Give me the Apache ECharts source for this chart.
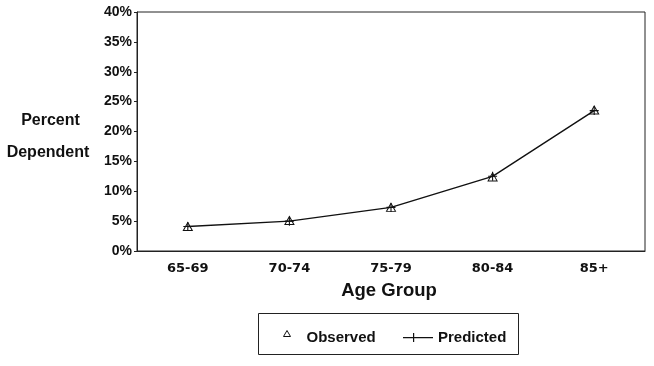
<!DOCTYPE html>
<html><head><meta charset="utf-8">
<script src="https://cdn.jsdelivr.net/npm/echarts@6/dist/echarts.min.js"></script>
<style>html,body{margin:0;padding:0;background:#fff}#c{width:654px;height:366px}</style>
</head><body><div id="c"></div>
<script>
const categories = ['65-69', '70-74', '75-79', '80-84', '85+'];
const observed = [4.1, 5.1, 7.3, 12.4, 23.6];
const predicted = [4.1, 5.0, 7.3, 12.5, 23.5];
const yTicks = [0, 5, 10, 15, 20, 25, 30, 35, 40];

const plusPath = 'path://M4.4,0h1.2v10h-1.2zM0,4.4h10v1.2h-10z';
const triPath = 'path://M5,0L10,9L0,9Z';
const FONT = 'Liberation Sans';
const FONT2 = 'DejaVu Sans';
const chart = echarts.init(document.getElementById('c'));
chart.setOption({
  animation: false,
  backgroundColor: '#fff',
  grid: { left: 137, top: 12, right: 9, bottom: 115, show: true, borderColor: '#222', borderWidth: 1 },
  xAxis: {
    type: 'category', data: categories, boundaryGap: true,
    axisLine: { lineStyle: { color: '#222', width: 1 } },
    axisTick: { alignWithLabel: true, inside: true, length: 5, lineStyle: { color: '#222' } },
    axisLabel: { color: '#111', fontFamily: FONT2, fontWeight: 'bold', fontSize: 13, margin: 11 }
  },
  yAxis: {
    type: 'value', min: yTicks[0], max: yTicks[yTicks.length - 1], interval: 5,
    splitLine: { show: false },
    axisLine: { show: true, lineStyle: { color: '#222', width: 1 } },
    axisTick: { show: true, length: 3, lineStyle: { color: '#222' } },
    axisLabel: { color: '#111', fontFamily: FONT, fontWeight: 'bold', fontSize: 14, margin: 5, formatter: v => v + '%' }
  },
  legend: [
    {
      left: 283, top: 330, padding: 0, itemWidth: 18, itemHeight: 15,
      textStyle: { color: '#111', fontFamily: FONT, fontWeight: 'bold', fontSize: 15 },
      data: [{ name: 'Observed', icon: 'path://M3.5,0L7,6L0,6ZM18,15L18,15',
               itemStyle: { color: '#fff', borderColor: '#111', borderWidth: 1 } }]
    },
    {
      left: 403, top: 330, padding: 0, itemWidth: 30, itemHeight: 9,
      textStyle: { color: '#111', fontFamily: FONT, fontWeight: 'bold', fontSize: 15 },
      data: [{ name: 'Predicted', icon: 'path://M0,4h30v1.2h-30zM10,0h1.2v9h-1.2z', itemStyle: { color: '#111', borderWidth: 0 } }]
    }
  ],
  graphic: [
    { type: 'rect', shape: { x: 258.5, y: 313.5, width: 260, height: 41 }, style: { fill: 'none', stroke: '#222', lineWidth: 1 } },
    { type: 'text', x: 50.5, y: 120.5, style: { text: 'Percent', align: 'center', verticalAlign: 'middle', font: 'bold 16px "Liberation Sans"', fill: '#111' } },
    { type: 'text', x: 48, y: 152.5, style: { text: 'Dependent', align: 'center', verticalAlign: 'middle', font: 'bold 16px "Liberation Sans"', fill: '#111' } },
    { type: 'text', x: 389, y: 291, style: { text: 'Age Group', align: 'center', verticalAlign: 'middle', font: 'bold 18.5px "Liberation Sans"', fill: '#111' } }
  ],
  series: [
    {
      name: 'Predicted', type: 'line', data: predicted, symbol: plusPath, symbolSize: 9,
      lineStyle: { color: '#111', width: 1.4 }, itemStyle: { color: '#111' }, z: 2
    },
    {
      name: 'Observed', type: 'line', data: observed, symbol: triPath, symbolSize: [9, 8],
      lineStyle: { width: 0, opacity: 0 }, itemStyle: { color: 'rgba(255,255,255,0)', borderColor: '#111', borderWidth: 1 }, z: 3
    }
  ]
});
</script></body></html>
